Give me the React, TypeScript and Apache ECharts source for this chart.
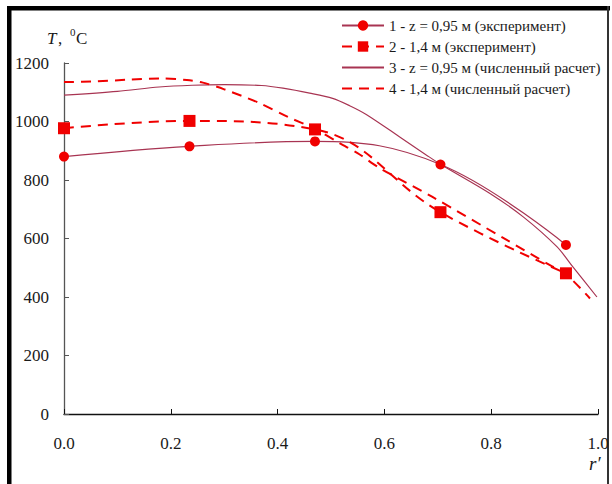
import React, { useEffect, useRef } from "react";
import * as echarts from "echarts";

// Experimental points (r', T)
const expR = [0, 0.235, 0.47, 0.705, 0.94];
const exp095 = [880, 915, 932, 853, 578];
const exp14 = [977, 1002, 973, 690, 481];

// Numerical calculation z = 0.95 m
const calc095R = [0, 0.1, 0.178, 0.24, 0.3, 0.37, 0.41, 0.46, 0.503, 0.535, 0.566, 0.628, 0.679, 0.704, 0.797, 0.86, 0.923, 0.953, 0.998];
const calc095T = [1090, 1103, 1118, 1124, 1126, 1123, 1114, 1097, 1079, 1054, 1024, 948, 885, 855, 755, 674, 572, 503, 400];

// Numerical calculation 1.4 m
const calc14R = [0, 0.06, 0.12, 0.18, 0.23, 0.26, 0.3, 0.366, 0.42, 0.47, 0.516, 0.553, 0.591, 0.69, 0.829, 0.91, 0.94, 0.985];
const calc14T = [1135, 1137, 1143, 1147, 1142, 1133, 1110, 1063, 1015, 975, 926, 888, 841, 742, 595, 509, 478, 395];

const xTicks = [0, 0.2, 0.4, 0.6, 0.8, 1.0];
const yTicks = [0, 200, 400, 600, 800, 1000, 1200];

const legendNames = [
  "1 - z = 0,95 м (эксперимент)",
  "2 - 1,4 м (эксперимент)",
  "3 - z = 0,95 м (численный расчет)",
  "4 - 1,4 м (численный расчет)",
];

const zip = (xs: number[], ys: number[]) => xs.map((x, i) => [x, ys[i]]);

const SERIF = "Liberation Serif";
const RED = "#f00000";
const MAROON = "#a83452";

export default function App() {
  const ref = useRef<HTMLDivElement>(null);
  useEffect(() => {
    if (!ref.current) return;
    const chart = echarts.init(ref.current, null, { renderer: "svg" });
    chart.setOption({
      animation: false,
      backgroundColor: "#ffffff",
      textStyle: { fontFamily: SERIF },
      grid: { left: 64, right: 14, top: 63, bottom: 70, containLabel: false },
      legend: {
        orient: "vertical",
        left: 336,
        top: 13,
        itemWidth: 42,
        itemHeight: 13,
        itemGap: 6,
        textStyle: { fontFamily: SERIF, fontSize: 15, color: "#1a1a1a" },
        data: [
          { name: legendNames[0] },
          { name: legendNames[1] },
          { name: legendNames[2], itemStyle: { opacity: 0 } },
          { name: legendNames[3], itemStyle: { opacity: 0 } },
        ],
      },
      xAxis: {
        type: "value",
        min: 0,
        max: 1,
        interval: 0.2,
        axisLine: { show: true, lineStyle: { color: "#111", width: 1.3 } },
        axisTick: { show: true, inside: true, length: 5, lineStyle: { color: "#111" } },
        splitLine: { show: false },
        axisLabel: {
          margin: 21,
          fontFamily: SERIF,
          fontSize: 17,
          color: "#1a1a1a",
          formatter: (v: number) => (xTicks.includes(Math.round(v * 10) / 10) ? v.toFixed(1) : ""),
        },
      },
      yAxis: {
        type: "value",
        min: 0,
        max: 1200,
        interval: 200,
        axisLine: { show: true, lineStyle: { color: "#555", width: 1.3 } },
        axisTick: { show: true, inside: true, length: 5, lineStyle: { color: "#555" } },
        splitLine: { show: false },
        axisLabel: {
          margin: 15,
          fontFamily: SERIF,
          fontSize: 17,
          color: "#1a1a1a",
          formatter: (v: number) => (yTicks.includes(v) ? String(v) : ""),
        },
      },
      series: [
        {
          name: legendNames[0],
          type: "line",
          data: zip(expR, exp095),
          smooth: 0.4,
          symbol: "circle",
          symbolSize: 10,
          itemStyle: { color: RED },
          lineStyle: { color: MAROON, width: 1.2 },
          z: 5,
        },
        {
          name: legendNames[1],
          type: "line",
          data: zip(expR, exp14),
          smooth: 0.4,
          symbol: "rect",
          symbolSize: 12,
          itemStyle: { color: RED },
          lineStyle: { color: RED, width: 2, type: [10, 7] },
          z: 5,
        },
        {
          name: legendNames[2],
          type: "line",
          data: zip(calc095R, calc095T),
          smooth: 0.3,
          symbol: "none",
          itemStyle: { color: MAROON },
          lineStyle: { color: MAROON, width: 1.2 },
        },
        {
          name: legendNames[3],
          type: "line",
          data: zip(calc14R, calc14T),
          smooth: 0.3,
          symbol: "none",
          itemStyle: { color: RED },
          lineStyle: { color: RED, width: 2, type: [10, 7] },
        },
      ],
      graphic: [
        { type: "rect", shape: { x: 7, y: 6, width: 603, height: 4.5 }, style: { fill: "#000" } },
        { type: "rect", shape: { x: 7, y: 6, width: 4.5, height: 478 }, style: { fill: "#000" } },
        { type: "rect", shape: { x: 607, y: 6, width: 2, height: 478 }, style: { fill: "#333" } },
        {
          type: "text",
          x: 47,
          y: 38,
          style: { text: "T", fontFamily: SERIF, fontStyle: "italic", fontSize: 17, fill: "#1a1a1a", verticalAlign: "middle" },
        },
        {
          type: "text",
          x: 58,
          y: 38,
          style: { text: ",", fontFamily: SERIF, fontSize: 17, fill: "#1a1a1a", verticalAlign: "middle" },
        },
        {
          type: "text",
          x: 70,
          y: 32,
          style: { text: "0", fontFamily: SERIF, fontSize: 11, fill: "#1a1a1a", verticalAlign: "middle" },
        },
        {
          type: "text",
          x: 76,
          y: 38,
          style: { text: "C", fontFamily: SERIF, fontSize: 17, fill: "#1a1a1a", verticalAlign: "middle" },
        },
        {
          type: "text",
          x: 589,
          y: 463,
          style: { text: "r′", fontFamily: SERIF, fontStyle: "italic", fontSize: 19, fill: "#1a1a1a", verticalAlign: "middle" },
        },
      ],
    });
    return () => chart.dispose();
  }, []);
  return (
    <div
      ref={ref}
      style={{ position: "fixed", left: 0, top: 0, width: 612, height: 484 }}
    />
  );
}
